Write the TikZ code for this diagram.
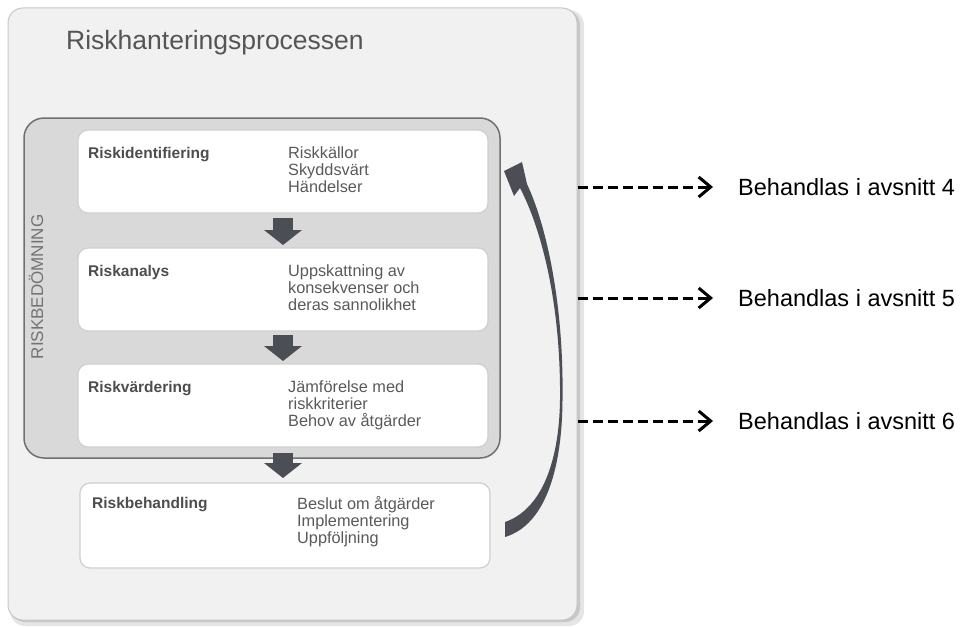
\documentclass[tikz,border=0pt]{standalone}
\usepackage{fontspec}
\setmainfont{Liberation Sans}
\usetikzlibrary{positioning,arrows.meta}

\definecolor{panelfill}{HTML}{F1F1F1}
\definecolor{panelline}{HTML}{C6C6C6}
\definecolor{assessfill}{HTML}{D9D9D9}
\definecolor{assessline}{HTML}{707070}
\definecolor{stepline}{HTML}{CFCFCF}
\definecolor{arrowgray}{HTML}{4B4F55}
\definecolor{titlegray}{HTML}{555555}
\definecolor{labelgray}{HTML}{4D4D4D}
\definecolor{detailgray}{HTML}{5A5A5A}

\begin{document}
\begin{tikzpicture}[x=1pt, y=-1pt, node distance=35pt,
  processbox/.style={draw=panelline, fill=panelfill, rounded corners=15pt, line width=1pt, minimum width=569pt, minimum height=612pt},
  assessbox/.style={draw=assessline, fill=assessfill, rounded corners=20pt, line width=1.5pt, minimum width=476pt, minimum height=340pt},
  stepbox/.style={draw=stepline, fill=white, rounded corners=10pt, line width=1.2pt, outer sep=0pt, minimum width=410pt, minimum height=83pt},
  steptitle/.style={anchor=north west, inner sep=0pt, text=labelgray, font=\fontsize{15.5}{18}\selectfont\bfseries},
  stepdetail/.style={anchor=north west, inner sep=0pt, align=left, text=detailgray, font=\fontsize{16.3}{16.8}\selectfont},
  flowarrow/.style={draw=arrowgray, line width=20pt, -{Triangle[length=15pt, width=38pt, line width=0pt]}},
  sectionlabel/.style={anchor=west, inner sep=0pt, font=\fontsize{23.5}{27}\selectfont},
  sectionarrow/.style={line width=3pt, dash pattern=on 10pt off 5pt, -{Straight Barb[length=12pt, width=20pt]}}]

  \useasboundingbox (0,0) rectangle (963,626);

  % outer panel with its shadow
  \fill[black!10, rounded corners=15pt] (10,10) rectangle (584,626);
  \fill[black!22, rounded corners=15pt] (10,10) rectangle (580,622);
  \node[processbox] (process) at (292.5,314) {};
  \node[anchor=north west, inner sep=0pt, text=titlegray, font=\fontsize{26.5}{30}\selectfont] (processtitle) at (66,30) {Riskhanteringsprocessen};

  % risk assessment group
  \node[assessbox] (assess) at (262,288) {};
  \node[rotate=90, inner sep=0pt, text=black!55, font=\fontsize{17}{20}\selectfont] (assesslabel) at (36,287) {RISKBEDÖMNING};

  % the four steps
  \node[stepbox] (ident) at (283,171.5) {};
  \node[stepbox, below=35pt of ident] (analys) {};
  \node[stepbox, below=33pt of analys] (vardering) {};
  \node[stepbox, below=36pt of vardering, xshift=2pt, minimum height=85pt] (behandling) {};

  \node[steptitle] (identtitle) at ([shift={(10pt,-17pt)}]ident.north west) {Riskidentifiering};
  \node[stepdetail] (identdetail) at ([shift={(210pt,-16.5pt)}]ident.north west) {Riskkällor\\Skyddsvärt\\Händelser};
  \node[steptitle] (analystitle) at ([shift={(10pt,-17pt)}]analys.north west) {Riskanalys};
  \node[stepdetail] (analysdetail) at ([shift={(210pt,-16.5pt)}]analys.north west) {Uppskattning av\\konsekvenser och\\deras sannolikhet};
  \node[steptitle] (varderingtitle) at ([shift={(10pt,-17pt)}]vardering.north west) {Riskvärdering};
  \node[stepdetail] (varderingdetail) at ([shift={(210pt,-16.5pt)}]vardering.north west) {Jämförelse med\\riskkriterier\\Behov av åtgärder};
  \node[steptitle] (behandlingtitle) at ([shift={(12pt,-14pt)}]behandling.north west) {Riskbehandling};
  \node[stepdetail] (behandlingdetail) at ([shift={(217pt,-13.5pt)}]behandling.north west) {Beslut om åtgärder\\Implementering\\Uppföljning};

  \draw[flowarrow] ([yshift=-5pt]ident.south) -- ([yshift=3pt]analys.north);
  \draw[flowarrow] ([yshift=-4pt]analys.south) -- ([yshift=3pt]vardering.north);
  \draw[flowarrow] ([yshift=-6pt]vardering.south) -- ([yshift=5pt]vardering.south |- behandling.north);

  % feedback arrow back to the top
  \coordinate (looptail) at (505,522);
  \coordinate (looptip) at (504,171);
  \fill[arrowgray] (505,537) .. controls (545,525) and (562,470) .. (562.5,400)
    .. controls (564,300) and (545,222) .. (527,184)
    -- (522,162) -- (looptip) -- (514,196) -- (520,188)
    .. controls (540,226) and (561,300) .. (560,400)
    .. controls (559,465) and (540,510) .. (looptail) -- cycle;

  % sections
  \node[sectionlabel] (sec4) at (738,187) {Behandlas i avsnitt 4};
  \node[sectionlabel] (sec5) at (738,298) {Behandlas i avsnitt 5};
  \node[sectionlabel] (sec6) at (738,421) {Behandlas i avsnitt 6};
  \draw[sectionarrow] (process.east |- sec4.west) -- ([xshift=-25pt]sec4.west);
  \draw[sectionarrow] (process.east |- sec5.west) -- ([xshift=-25pt]sec5.west);
  \draw[sectionarrow] (process.east |- sec6.west) -- ([xshift=-25pt]sec6.west);
\end{tikzpicture}
\end{document}
